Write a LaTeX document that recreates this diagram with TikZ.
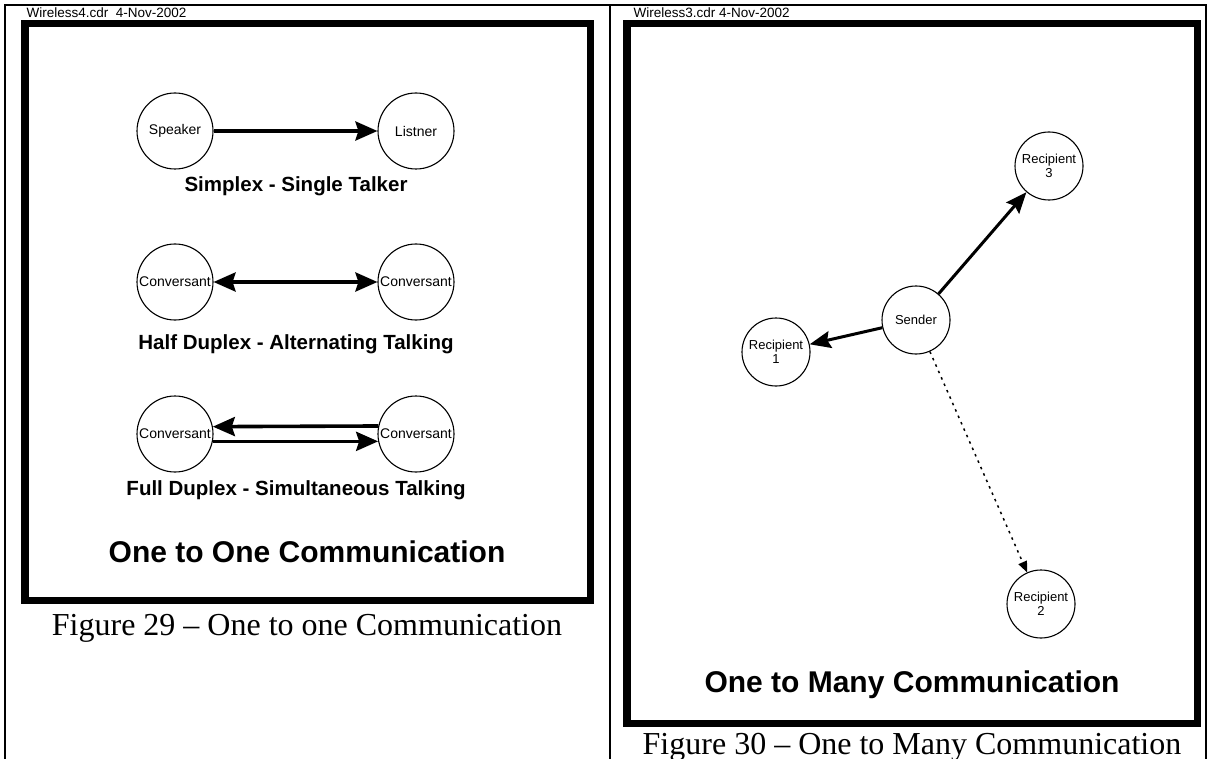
\documentclass[tikz,border=0pt]{standalone}
\usepackage{fontspec}
\setmainfont{Liberation Serif}
\newfontfamily\arialfont{Liberation Sans}
\usetikzlibrary{arrows.meta}

\begin{document}
\begin{tikzpicture}[x=1pt,y=-1pt,
  rule/.style={line width=2pt},
  frame/.style={line width=7.5pt},
  party/.style={circle,draw,line width=1.1pt,minimum size=76pt,inner sep=0pt,
    font=\arialfont\fontsize{14}{15}\selectfont},
  station/.style={circle,draw,line width=1.1pt,minimum size=68pt,inner sep=0pt,
    align=center,font=\arialfont\fontsize{13}{14}\selectfont},
  bighead/.tip={Stealth[length=22pt,width=19pt,inset=3pt]},
  link/.style={line width=3.6pt,-bighead},
  twoway/.style={line width=3.6pt,bighead-bighead},
  ray/.style={line width=3pt,-{Stealth[length=21pt,width=17pt,inset=3pt]}},
  faint/.style={line width=1.5pt,dash pattern=on 2.5pt off 4.5pt,
    -{Triangle[length=11pt,width=9pt]}},
  header/.style={anchor=base west,font=\arialfont\fontsize{13.5}{14}\selectfont},
  mode/.style={anchor=base,font=\arialfont\bfseries\fontsize{20.5}{22}\selectfont},
  title/.style={anchor=base,font=\arialfont\bfseries\fontsize{30}{32}\selectfont},
  caption/.style={anchor=base,font=\fontsize{32}{34}\selectfont}
]
\useasboundingbox (0,0) rectangle (1209,759);

% table rules
\draw[rule] (4,5) -- (1207,5);
\draw[rule] (5,5) -- (5,759);
\draw[rule] (610,5) -- (610,759);
\draw[rule] (1206,5) -- (1206,759);

% file stamps
\node[header] (stampA) at (23,17.5) {Wireless4.cdr\ \ 4-Nov-2002};
\node[header] (stampB) at (630,17.5) {Wireless3.cdr 4-Nov-2002};

% frames
\draw[frame] (24.75,23.75) rectangle (590.25,600.25);
\draw[frame] (626.75,23.75) rectangle (1197.25,723.25);

% ---- one to one ----
\node[party] (spk) at (175,131) {Speaker};
\node[party] (lst) at (416,131) {Listner};
\draw[link] (spk) -- (lst);
\node[mode] (simplex) at (296,192) {Simplex - Single Talker};

\node[party] (hA) at (175,282) {Conversant};
\node[party] (hB) at (416,282) {Conversant};
\draw[twoway] (hA) -- (hB);
\node[mode] (half) at (296,349) {Half Duplex - Alternating Talking};

\node[party] (fA) at (175,434) {Conversant};
\node[party] (fB) at (416,434) {Conversant};
\draw[link] (fB.168.6) -- (fA.11.4);
\draw[link] (fA.-11.4) -- (fB.191.4);
\node[mode] (full) at (296,495) {Full Duplex - Simultaneous Talking};

\node[title] (oneone) at (307,562) {One to One Communication};
\node[caption] (cap29) at (307,635) {Figure 29 -- One to one Communication};

% ---- one to many ----
\node[station] (snd) at (916,320) {Sender};
\node[station] (r1) at (776,352) {Recipient\\1};
\node[station] (r3) at (1049,166) {Recipient\\3};
\node[station] (r2) at (1041,604) {Recipient\\2};
\draw[ray] (snd) -- (r1);
\draw[ray] (snd) -- (r3);
\draw[faint] (snd) -- (r2);

\node[title] (onemany) at (912,692) {One to Many Communication};
\node[caption] (cap30) at (912,754) {Figure 30 -- One to Many Communication};
\end{tikzpicture}
\end{document}
